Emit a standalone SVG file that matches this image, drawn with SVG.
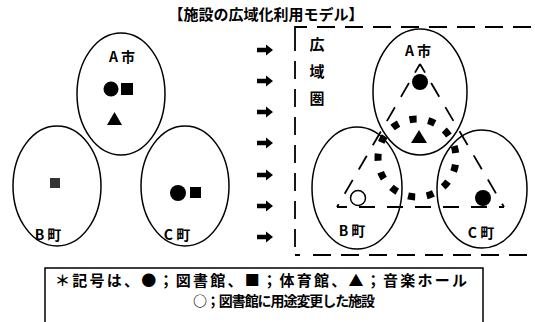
<svg xmlns="http://www.w3.org/2000/svg" width="535" height="322" viewBox="0 0 535 322">
<style>
text{font-family:"Noto Sans CJK JP","Liberation Sans",sans-serif;fill:#000;font-weight:bold}
.lbl{font-size:14px;text-anchor:middle}
.ell{fill:none;stroke:#000;stroke-width:1.5}
.dash{fill:none;stroke:#000;stroke-width:1.8;stroke-dasharray:18 10}
.tri{fill:none;stroke:#000;stroke-width:1.8;stroke-dasharray:16 12;stroke-dashoffset:6}
</style>
<defs>
<path id="arr" d="M0,-2.2 H9 V-5.5 L16,0 L9,5.5 V2.2 H0 Z" fill="#000"/>
</defs>
<rect width="535" height="322" fill="#fff"/>
<text x="266" y="20" font-size="15" text-anchor="middle">【施設の広域化利用モデル】</text>

<g id="left-A">
<ellipse class="ell" cx="121" cy="94" rx="44" ry="61"/>
<text class="lbl" x="122" y="62">A 市</text>
<circle cx="111" cy="89" r="7.5"/>
<rect x="121" y="83" width="12" height="12"/>
<path d="M107,125 L114.5,112 L122,125 Z"/>
</g>
<g id="left-B">
<ellipse class="ell" cx="57" cy="186" rx="44" ry="60"/>
<rect x="50" y="178" width="10" height="10" fill="#333"/>
<text class="lbl" x="48" y="240">B 町</text>
</g>
<g id="left-C">
<ellipse class="ell" cx="185" cy="186" rx="44" ry="60"/>
<circle cx="178" cy="193" r="8"/>
<rect x="190" y="187" width="11" height="11"/>
<text class="lbl" x="177" y="240">C 町</text>
</g>

<g id="connectors">
<use href="#arr" x="257" y="50"/>
<use href="#arr" x="257" y="81"/>
<use href="#arr" x="257" y="112"/>
<use href="#arr" x="257" y="143"/>
<use href="#arr" x="257" y="175"/>
<use href="#arr" x="257" y="206"/>
<use href="#arr" x="257" y="237"/>
</g>

<g id="wide-area">
<path class="dash" d="M295,33 V27 H535"/>
<path class="dash" d="M295,33 V255"/>
<path class="dash" d="M300,255 H295 M313,255 H535"/>
<text x="317" y="50" font-size="15" text-anchor="middle">広</text>
<text x="317" y="77" font-size="15" text-anchor="middle">域</text>
<text x="317" y="104" font-size="15" text-anchor="middle">圏</text>
</g>

<g id="right-A">
<ellipse class="ell" cx="420" cy="92" rx="47" ry="63"/>
<text class="lbl" x="418" y="56">A 市</text>
<circle cx="420" cy="82" r="8"/>
<path d="M411,143 L419,130 L427,143 Z"/>
</g>
<g id="right-B">
<ellipse class="ell" cx="357" cy="188" rx="45" ry="61"/>
<text class="lbl" x="352" y="236">B 町</text>
<circle cx="358" cy="198" r="7.5" fill="#fff" stroke="#000" stroke-width="1.5"/>
</g>
<g id="right-C">
<ellipse class="ell" cx="482" cy="189" rx="45" ry="59"/>
<text class="lbl" x="481" y="238">C 町</text>
<circle cx="483" cy="198" r="8"/>
</g>
<g id="share-triangle">
<path class="tri" d="M420,64 L337,207"/>
<path class="tri" d="M420,64 L504,207"/>
<path class="tri" d="M337,207 L504,207"/>
</g>
<g id="share-ring">
<circle cx="417" cy="158" r="39" fill="none" stroke="#000" stroke-width="7" pathLength="13" stroke-dasharray="0.38 0.62" stroke-dashoffset="-0.35"/>
</g>

<g id="legend">
<path d="M45,322 V268 H483 V322" fill="none" stroke="#000" stroke-width="1.5"/>
<text x="55" y="286" font-size="15" textLength="412" lengthAdjust="spacing">＊記号は、●；図書館、■；体育館、▲；音楽ホール</text>
<text x="193" y="306" font-size="14" textLength="182" lengthAdjust="spacing">○；図書館に用途変更した施設</text>
</g>
</svg>
